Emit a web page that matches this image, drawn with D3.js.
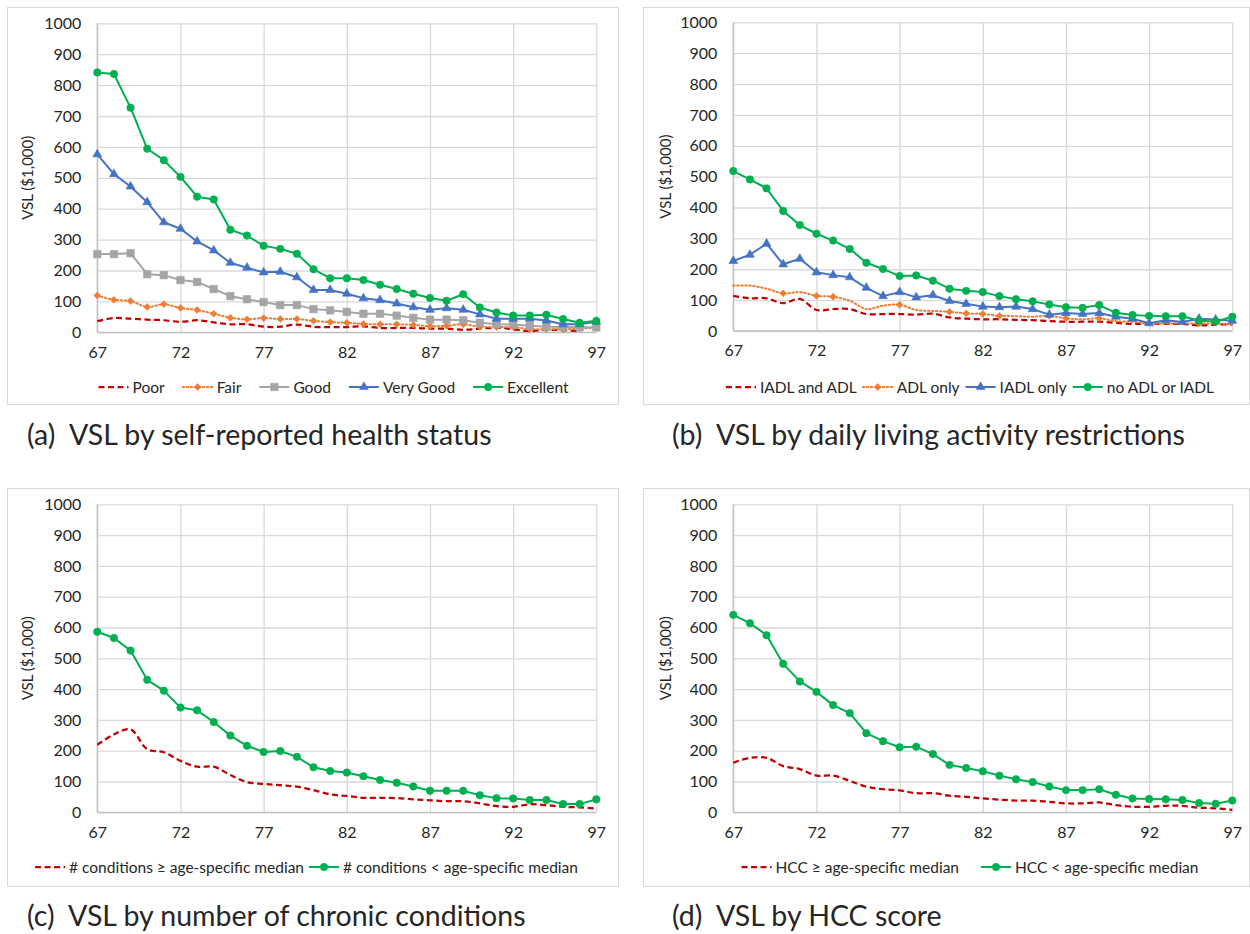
<!DOCTYPE html>
<html>
<head>
<meta charset="utf-8">
<script src="https://cdn.jsdelivr.net/npm/d3@7"></script>
<style>
  body { margin: 0; background: #fff; }
  svg { display: block; }
  text { font-family: Lato, "Open Sans", sans-serif; fill: #262626; }
</style>
</head>
<body>
<svg id="chart" width="1250" height="934"></svg>
<script>
// Ages on the x axis
const ages = [67, 68, 69, 70, 71, 72, 73, 74, 75, 76, 77, 78, 79, 80, 81, 82,
              83, 84, 85, 86, 87, 88, 89, 90, 91, 92, 93, 94, 95, 96, 97];
const xTicks = [67, 72, 77, 82, 87, 92, 97];
const yTicks = [0, 100, 200, 300, 400, 500, 600, 700, 800, 900, 1000];

// (a) VSL by self-reported health status, $1,000
const poor      = [36, 46, 44, 41, 39, 34, 39, 32, 26, 26, 18, 18, 25, 18, 17, 17,
                   19, 14, 14, 14, 12, 12, 8, 12, 15, 10, 4, 8, 7, 4, null];
const fair      = [119, 105, 101, 82, 91, 79, 72, 60, 47, 42, 46, 43, 43, 37, 33, 31,
                   27, 26, 26, 24, 20, 21, 26, 18, 17, 17, 10, 10, 10, 13, 14];
const good      = [253, 253, 256, 188, 185, 169, 163, 140, 117, 107, 98, 88, 88, 75, 71, 66,
                   60, 60, 54, 47, 41, 41, 39, 31, 26, 25, 21, 18, 17, 16, 16];
const veryGood  = [576, 512, 472, 421, 356, 335, 294, 265, 225, 209, 194, 196, 178, 137, 137, 125,
                   110, 104, 93, 81, 73, 78, 73, 58, 44, 44, 44, 38, 26, 26, 34];
const excellent = [841, 836, 727, 594, 557, 503, 439, 430, 332, 313, 280, 270, 254, 204, 175, 175,
                   169, 154, 140, 125, 111, 102, 123, 80, 64, 54, 54, 57, 43, 31, 37];

// (b) VSL by daily living activity restrictions, $1,000
const iadlAndAdl = [114, 106, 106, 90, 104, 68, 71, 71, 55, 55, 55, 53, 56, 44, 40, 38,
                    38, 36, 35, 32, 30, 30, 30, 26, 23, 23, 23, 23, 18, 21, 21];
const adlOnly    = [147, 147, 137, 122, 126, 114, 111, 98, 71, 82, 85, 68, 65, 62, 57, 55,
                    49, 48, 46, 49, 41, 38, 41, 32, 30, 24, 24, 24, 24, 24, 22];
const adlOnlyMarked = [70, 72, 73, 77, 80, 81, 82, 83, 86, 87, 89, 95];
const iadlOnly   = [227, 247, 283, 216, 234, 190, 181, 174, 140, 113, 126, 109, 116, 97, 88, 79,
                    77, 79, 71, 53, 58, 55, 58, 46, 40, 25, 35, 29, 40, 37, 33];
const noAdlIadl  = [518, 491, 462, 389, 343, 315, 293, 266, 221, 201, 178, 180, 163, 137, 130, 126,
                    113, 103, 96, 86, 77, 75, 84, 59, 52, 49, 48, 48, 33, 31, 46];

// (c) VSL by number of chronic conditions, $1,000
const condAbove = [219, 253, 269, 205, 195, 167, 148, 148, 121, 98, 92, 88, 83, 72, 58, 53,
                   47, 47, 46, 42, 39, 36, 36, 29, 20, 18, 26, 23, 18, 16, 12];
const condBelow = [586, 566, 525, 430, 395, 340, 331, 293, 249, 216, 196, 199, 180, 146, 134, 129,
                   117, 105, 96, 84, 70, 70, 70, 55, 46, 45, 40, 40, 27, 27, 42];

// (d) VSL by HCC score, $1,000
const hccAbove = [161, 177, 177, 150, 140, 119, 119, 102, 83, 75, 71, 62, 62, 54, 50, 45,
                  41, 38, 38, 34, 29, 29, 32, 23, 18, 18, 21, 21, 15, 13, 8];
const hccBelow = [641, 614, 575, 482, 425, 391, 348, 322, 257, 231, 211, 213, 189, 154, 144, 133,
                  119, 107, 98, 84, 72, 72, 75, 57, 45, 43, 42, 40, 30, 28, 38];

const RED = "#C00000", ORANGE = "#ED7D31", GRAY = "#A5A5A5", BLUE = "#4472C4", GREEN = "#00B050";

const dashed = { dash: "6,3.5", width: 2.25, smooth: true };
const dotted = { dash: "1.5,2.5", width: 2, smooth: true, cap: "round" };
const solid  = { dash: null, width: 2, smooth: false };

const TICK_FONT = "16px", LEGEND_FONT = "15.5px", TITLE_FONT = "15px", CAPTION_FONT = "28.5px";

const panels = [
  {
    box: { x: 7, y: 7, w: 611, h: 397 },
    plot: { l: 97.3, t: 23.3, r: 596.3, b: 332.3 },
    yTitleX: 27,
    caption: { x: 27, y: 445, text: "(a)  VSL by self-reported health status" },
    legend: { cx: 333.5, y: 387, gap: 18 },
    series: [
      { name: "Poor", values: poor, color: RED, line: dashed, marker: null },
      { name: "Fair", values: fair, color: ORANGE, line: dotted, marker: "diamond" },
      { name: "Good", values: good, color: GRAY, line: solid, marker: "square" },
      { name: "Very Good", values: veryGood, color: BLUE, line: solid, marker: "triangle" },
      { name: "Excellent", values: excellent, color: GREEN, line: solid, marker: "circle" }
    ]
  },
  {
    box: { x: 643, y: 7, w: 606, h: 397 },
    plot: { l: 733.3, t: 22.3, r: 1232.3, b: 331 },
    yTitleX: 665,
    caption: { x: 672, y: 445, text: "(b)  VSL by daily living activity restrictions" },
    legend: { cx: 970, y: 387, gap: 6 },
    series: [
      { name: "IADL and ADL", values: iadlAndAdl, color: RED, line: dashed, marker: null },
      { name: "ADL only", values: adlOnly, color: ORANGE, line: dotted, marker: "diamond", markAt: adlOnlyMarked },
      { name: "IADL only", values: iadlOnly, color: BLUE, line: solid, marker: "triangle" },
      { name: "no ADL or IADL", values: noAdlIadl, color: GREEN, line: solid, marker: "circle" }
    ]
  },
  {
    box: { x: 7, y: 488, w: 611, h: 398 },
    plot: { l: 97.3, t: 504.3, r: 596.3, b: 812.3 },
    yTitleX: 27,
    caption: { x: 27, y: 926, text: "(c)  VSL by number of chronic conditions" },
    legend: { cx: 306.5, y: 867, gap: 5 },
    series: [
      { name: "# conditions \u2265 age-specific median", values: condAbove, color: RED, line: dashed, marker: null },
      { name: "# conditions < age-specific median", values: condBelow, color: GREEN, line: solid, marker: "circle" }
    ]
  },
  {
    box: { x: 643, y: 488, w: 606, h: 398 },
    plot: { l: 733.3, t: 504.3, r: 1232.3, b: 812.3 },
    yTitleX: 665,
    caption: { x: 672, y: 926, text: "(d)  VSL by HCC score" },
    legend: { cx: 970, y: 867, gap: 22 },
    series: [
      { name: "HCC \u2265 age-specific median", values: hccAbove, color: RED, line: dashed, marker: null },
      { name: "HCC < age-specific median", values: hccBelow, color: GREEN, line: solid, marker: "circle" }
    ]
  }
];

const symbolTypes = {
  circle:   { type: d3.symbolCircle, size: 44 },
  square:   { type: d3.symbolSquare, size: 56 },
  triangle: { type: d3.symbolTriangle, size: 34 },
  diamond:  { type: d3.symbolDiamond2, size: 30 }
};

const svg = d3.select("#chart");

function drawMarker(g, kind, color, x, y) {
  const s = symbolTypes[kind];
  g.append("path")
    .attr("d", d3.symbol(s.type, s.size)())
    .attr("transform", `translate(${x},${y})`)
    .attr("fill", color)
    .attr("stroke", color)
    .attr("stroke-width", 0.6);
}

panels.forEach(p => {
  const g = svg.append("g");

  // chart frame
  g.append("rect")
    .attr("x", p.box.x + 0.5).attr("y", p.box.y + 0.5)
    .attr("width", p.box.w).attr("height", p.box.h)
    .attr("fill", "#fff").attr("stroke", "#d9d9d9").attr("stroke-width", 1);

  const x = d3.scaleLinear().domain([67, 97]).range([p.plot.l, p.plot.r]);
  const y = d3.scaleLinear().domain([0, 1000]).range([p.plot.b, p.plot.t]);

  // horizontal gridlines + y tick labels
  const yAxis = d3.axisLeft(y).tickValues(yTicks).tickFormat(d3.format("d"))
    .tickSize(-(p.plot.r - p.plot.l)).tickPadding(16);
  const ya = g.append("g").attr("transform", `translate(${p.plot.l},0)`).call(yAxis);
  ya.select(".domain").remove();
  ya.selectAll(".tick line").attr("stroke", "#d9d9d9").attr("stroke-width", 1.3);
  ya.selectAll(".tick text").style("font-size", TICK_FONT).attr("fill", "#262626");

  // vertical gridlines + x tick labels
  const xAxis = d3.axisBottom(x).tickValues(xTicks).tickFormat(d3.format("d"))
    .tickSize(-(p.plot.b - p.plot.t)).tickPadding(14);
  const xa = g.append("g").attr("transform", `translate(0,${p.plot.b})`).call(xAxis);
  xa.select(".domain").remove();
  xa.selectAll(".tick line").attr("stroke", "#d9d9d9").attr("stroke-width", 1.3);
  xa.selectAll(".tick text").style("font-size", TICK_FONT).attr("fill", "#262626");

  // axis lines
  g.append("line").attr("x1", p.plot.l).attr("x2", p.plot.r).attr("y1", p.plot.b).attr("y2", p.plot.b)
    .attr("stroke", "#bfbfbf").attr("stroke-width", 1.3);
  g.append("line").attr("x1", p.plot.l).attr("x2", p.plot.l).attr("y1", p.plot.t).attr("y2", p.plot.b)
    .attr("stroke", "#bfbfbf").attr("stroke-width", 1.3);

  // y title
  g.append("text")
    .attr("transform", `translate(${p.yTitleX},${(p.plot.t + p.plot.b) / 2}) rotate(-90)`)
    .attr("text-anchor", "middle").attr("dominant-baseline", "central")
    .style("font-size", TITLE_FONT)
    .text("VSL ($1,000)");

  // series
  p.series.forEach(s => {
    const pts = ages.map((a, i) => ({ a, v: s.values[i] })).filter(d => d.v != null);
    const line = d3.line()
      .x(d => x(d.a)).y(d => y(d.v))
      .curve(s.line.smooth ? d3.curveCatmullRom.alpha(0.5) : d3.curveLinear);
    g.append("path")
      .datum(pts)
      .attr("d", line)
      .attr("fill", "none")
      .attr("stroke", s.color)
      .attr("stroke-width", s.line.width)
      .attr("stroke-dasharray", s.line.dash)
      .attr("stroke-linecap", s.line.cap || "butt")
      .attr("stroke-linejoin", "round");
    if (s.marker) {
      pts.filter(d => !s.markAt || s.markAt.includes(d.a))
        .forEach(d => drawMarker(g, s.marker, s.color, x(d.a), y(d.v)));
    }
  });

  // legend
  const lg = g.append("g");
  const symW = 30, textGap = 4;
  let cursor = 0;
  p.series.forEach(s => {
    const item = lg.append("g");
    item.append("line").attr("x1", 0).attr("x2", symW).attr("y1", 0).attr("y2", 0)
      .attr("stroke", s.color).attr("stroke-width", s.line.width)
      .attr("stroke-dasharray", s.line.dash).attr("stroke-linecap", s.line.cap || "butt");
    if (s.marker) drawMarker(item, s.marker, s.color, symW / 2, 0);
    const t = item.append("text").attr("x", symW + textGap).attr("y", 0)
      .attr("dominant-baseline", "central").style("font-size", LEGEND_FONT).text(s.name);
    const w = symW + textGap + t.node().getComputedTextLength();
    item.attr("transform", `translate(${cursor},0)`);
    cursor += w + p.legend.gap;
  });
  const total = cursor - p.legend.gap;
  lg.attr("transform", `translate(${p.legend.cx - total / 2},${p.legend.y})`);

  // caption
  svg.append("text")
    .attr("x", p.caption.x).attr("y", p.caption.y)
    .style("font-size", CAPTION_FONT).style("white-space", "pre").attr("fill", "#000")
    .text(p.caption.text);
});
</script>
</body>
</html>
